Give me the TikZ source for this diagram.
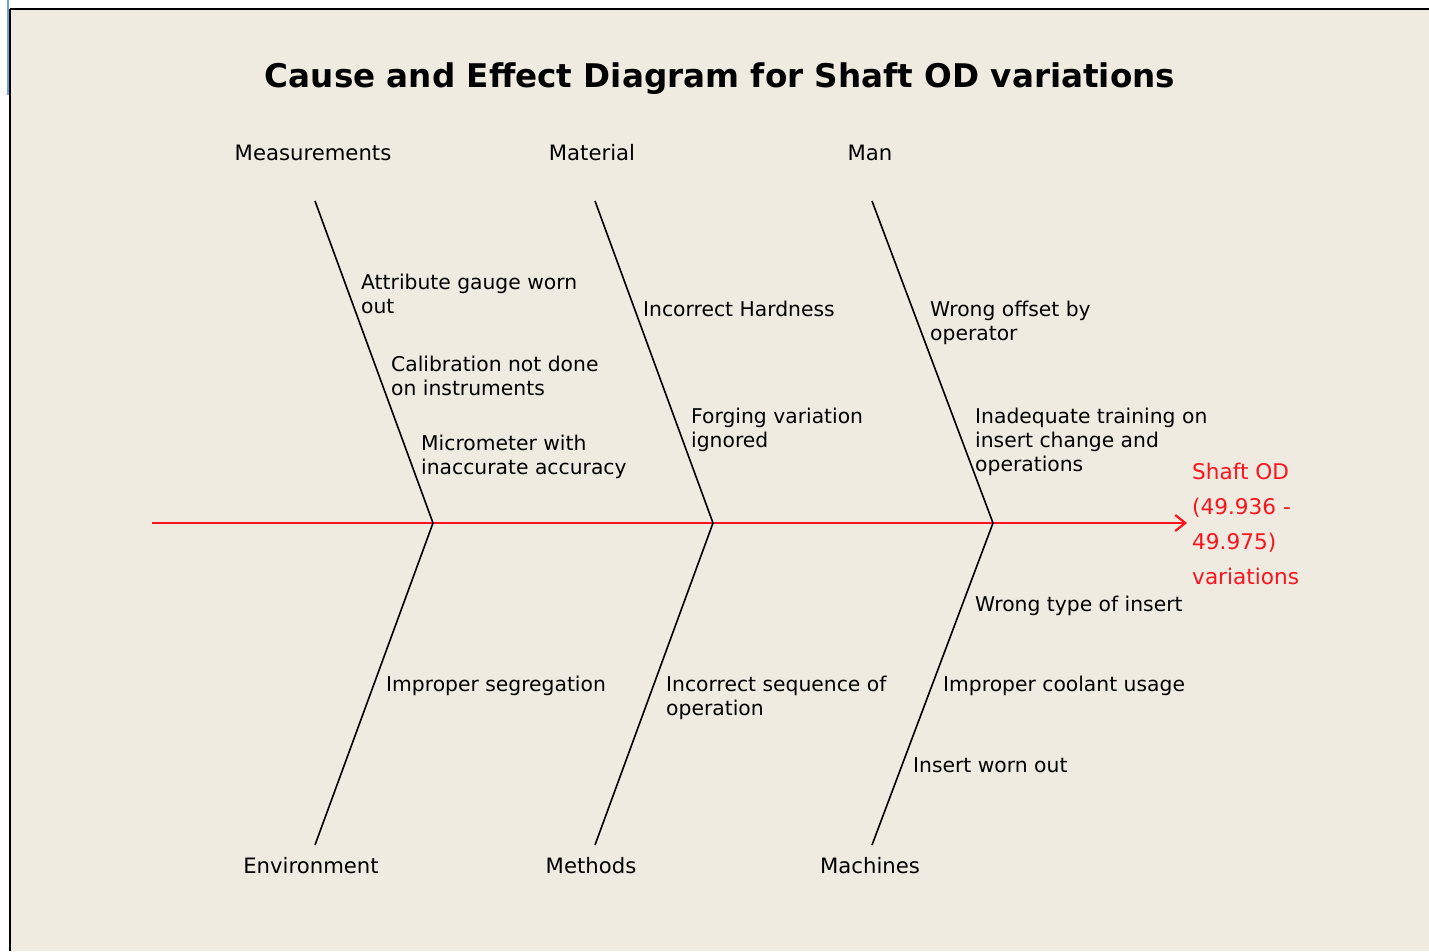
\documentclass[tikz,border=0pt]{standalone}
\usepackage{fontspec}
\setmainfont{DejaVu Sans}
\usetikzlibrary{arrows.meta}
\definecolor{bg}{RGB}{239,235,225}
\definecolor{effred}{RGB}{250,20,30}
\definecolor{winblue}{RGB}{110,160,230}
\tikzset{
  bone/.style={draw=black, line width=1.6pt},
  cause/.style={anchor=north west, inner sep=0pt, align=left, font=\fontsize{20.3}{24}\selectfont},
  cat/.style={inner sep=0pt, font=\fontsize{21.2}{24}\selectfont},
}
\begin{document}
\begin{tikzpicture}[x=1pt,y=-1pt]
\useasboundingbox (0,0) rectangle (1429,951);
\fill[white] (0,0) rectangle (1429,951);
\fill[bg] (10,9) rectangle (1429,951);
\draw[black, line width=2.5pt] (10,9) -- (1429,9);
\draw[black, line width=2.5pt] (10,9) -- (10,951);
\draw[winblue, line width=2pt] (8,0) -- (8,95);
% title
\node[inner sep=0pt, font=\fontsize{32.6}{36}\selectfont\bfseries] (title) at (720,79) {Cause and Effect Diagram for Shaft OD variations};
% spine and effect
\coordinate (tail) at (152,523);
\node[anchor=north west, inner sep=0pt, align=left, text=effred, font=\fontsize{21.6}{35}\selectfont] (effect) at (1192,463) {Shaft OD\\(49.936 -\\49.975)\\variations};
\coordinate (head) at (1187,523);
\draw[effred, line width=1.6pt, -{Straight Barb[length=10pt,width=16pt,line width=2.2pt]}] (tail) -- (head);
% junctions
\coordinate (j1) at (433,523);
\coordinate (j2) at (713,523);
\coordinate (j3) at (993,523);
% category labels
\node[cat] (meas) at (313,153) {Measurements};
\node[cat] (mat) at (592,153) {Material};
\node[cat] (man) at (870,153) {Man};
\node[cat] (env) at (311,866) {Environment};
\node[cat] (meth) at (591,866) {Methods};
\node[cat] (mach) at (870,866) {Machines};
% bone ends
\coordinate (t1) at (315,201);
\coordinate (t2) at (595,201);
\coordinate (t3) at (872,201);
\coordinate (b1) at (315,845);
\coordinate (b2) at (595,845);
\coordinate (b3) at (872,845);
\draw[bone] (t1) -- (j1) -- (b1);
\draw[bone] (t2) -- (j2) -- (b2);
\draw[bone] (t3) -- (j3) -- (b3);
% causes
\node[cause] (c1) at (361,274) {Attribute gauge worn\\out};
\node[cause] (c2) at (391,356) {Calibration not done\\on instruments};
\node[cause] (c3) at (421,435) {Micrometer with\\inaccurate accuracy};
\node[cause] (c4) at (643,301) {Incorrect Hardness};
\node[cause] (c5) at (691,408) {Forging variation\\ignored};
\node[cause] (c6) at (930,301) {Wrong offset by\\operator};
\node[cause] (c7) at (975,408) {Inadequate training on\\insert change and\\operations};
\node[cause] (c8) at (975,596) {Wrong type of insert};
\node[cause] (c9) at (943,676) {Improper coolant usage};
\node[cause] (c10) at (913,757) {Insert worn out};
\node[cause] (c11) at (386,676) {Improper segregation};
\node[cause] (c12) at (666,676) {Incorrect sequence of\\operation};
\end{tikzpicture}
\end{document}
